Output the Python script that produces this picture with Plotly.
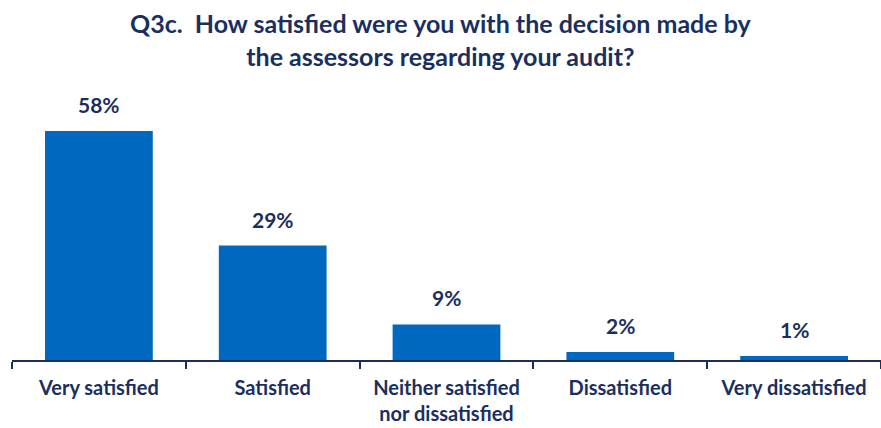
import plotly.graph_objects as go

categories = ["Very satisfied", "Satisfied", "Neither satisfied<br>nor dissatisfied", "Dissatisfied", "Very dissatisfied"]
values = [58, 29, 9, 2, 1]
value_labels = ["58%", "29%", "9%", "2%", "1%"]
title_text = "<b>Q3c.  How satisfied were you with the decision made by<br>the assessors regarding your audit?</b>"

navy = "#1b2f5e"
bar_color = "#0068bf"

fig = go.Figure()
fig.add_trace(go.Bar(
    x=categories, y=values, marker=dict(color=bar_color, line=dict(width=0)),
    width=0.62, hoverinfo="skip",
))
for c, v, t in zip(categories, values, value_labels):
    fig.add_annotation(x=c, y=v, text="<b>" + t + "</b>", showarrow=False, yanchor="bottom",
                       yshift=12, font=dict(family="Lato", size=21, color=navy))

fig.add_annotation(xref="paper", yref="paper", x=0.494, y=1.31, xanchor="center", yanchor="top",
                   text=title_text, showarrow=False,
                   font=dict(family="Lato", size=25, color=navy))

fig.update_layout(
    width=881, height=428,
    margin=dict(l=12, r=0, t=90, b=68),
    paper_bgcolor="white", plot_bgcolor="white",
    showlegend=False,
    font=dict(family="Lato", color=navy),
)
fig.update_xaxes(
    type="category", showline=True, linecolor=navy, linewidth=2,
    ticks="outside", tickson="boundaries", ticklen=7, tickwidth=2, tickcolor=navy,
    tickfont=dict(family="Lato", size=20, color=navy, weight="bold"), showgrid=False,
    ticklabelstandoff=9,
    tickvals=categories, ticktext=categories,
)
fig.update_yaxes(range=[0, 68.4], visible=False, showgrid=False, zeroline=False)

fig.write_html("out.html")
